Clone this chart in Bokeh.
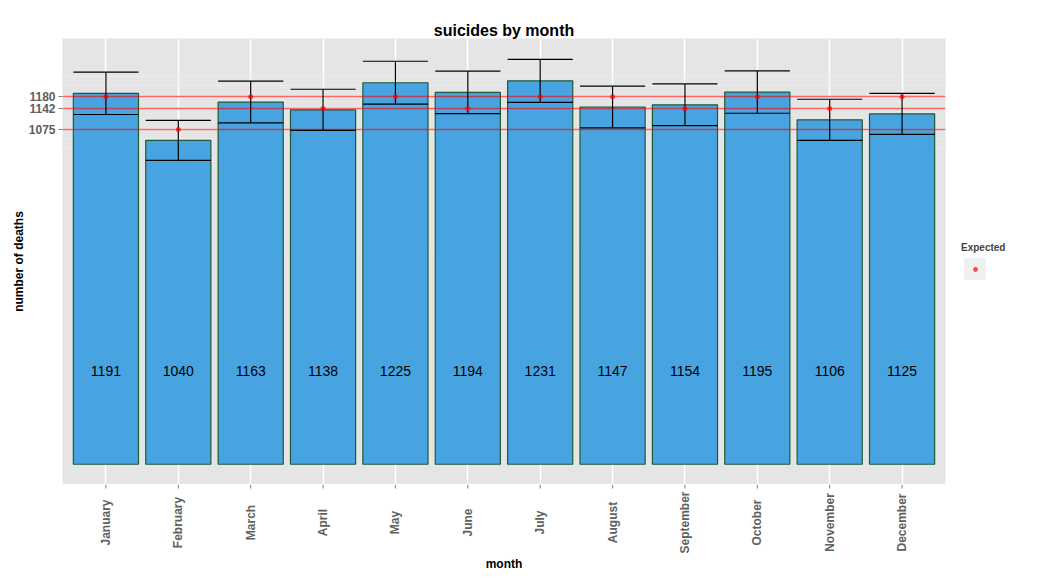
from bokeh.plotting import figure
from bokeh.layouts import column, row
from bokeh.models import (FactorRange, Range1d, FixedTicker, ColumnDataSource,
                          Legend, LegendItem)
from bokeh.transform import dodge
from bokeh.core.properties import value
from bokeh.embed import file_html
from bokeh.resources import INLINE
from math import pi

months = ["January", "February", "March", "April", "May", "June", "July",
          "August", "September", "October", "November", "December"]
deaths = [1191, 1040, 1163, 1138, 1225, 1194, 1231, 1147, 1154, 1195, 1106, 1125]
err_lower = [1123, 976, 1096, 1072, 1156, 1126, 1162, 1080, 1087, 1127, 1040, 1059]
err_upper = [1259, 1104, 1230, 1204, 1294, 1262, 1300, 1214, 1221, 1263, 1172, 1191]
expected = [1180, 1075, 1180, 1142, 1180, 1142, 1180, 1180, 1142, 1180, 1142, 1180]
ref_lines = [1075, 1142, 1180]
minor_lines = [1015, 1047, 1215, 1246]

FONT = "Liberation Sans"
GREY_TXT = "#606060"
TICK_COL = "#7F7F7F"

src = ColumnDataSource(dict(month=months, deaths=deaths, lower=err_lower,
                            upper=err_upper, expected=expected,
                            label=[str(d) for d in deaths],
                            label_y=[300] * len(months)))

# ---------------- main panel ----------------
p = figure(width=960, height=484,
           x_range=FactorRange(factors=months, range_padding=0.1,
                               range_padding_units="absolute"),
           y_range=Range1d(-65, 1367),
           output_backend="svg", toolbar_location=None,
           min_border_left=62, min_border_right=15,
           min_border_top=38, min_border_bottom=0)

p.background_fill_color = "#E5E5E5"
p.border_fill_color = "white"
p.outline_line_color = None

p.title.text = "suicides by month"
p.title.align = "center"
p.title.text_font = FONT
p.title.text_font_size = "16px"
p.title.text_font_style = "bold"
p.title.text_color = "black"
p.title.standoff = 0

p.xgrid.grid_line_color = "white"
p.xgrid.grid_line_width = 1.5
p.ygrid.grid_line_color = "white"
p.ygrid.grid_line_width = 1.5
p.ygrid.minor_grid_line_color = "#EEEEEE"
p.ygrid.minor_grid_line_width = 0.8

# x axis (ticks + centred rotated labels) is drawn in the strip below
p.xaxis.visible = False

yax = p.yaxis[0]
yax.ticker = FixedTicker(ticks=ref_lines, minor_ticks=minor_lines)
yax.minor_tick_line_color = None
yax.axis_line_color = None
yax.major_tick_line_color = TICK_COL
yax.major_tick_out = 4
yax.major_tick_in = 0
yax.major_label_text_font = FONT
yax.major_label_text_font_style = "bold"
yax.major_label_text_font_size = "12px"
yax.major_label_text_color = GREY_TXT
yax.major_label_standoff = 3
yax.axis_label = "number of deaths"
yax.axis_label_standoff = 0
yax.axis_label_text_font = FONT
yax.axis_label_text_font_style = "bold"
yax.axis_label_text_font_size = "12px"
yax.axis_label_text_color = "black"

p.vbar(x="month", top="deaths", bottom=0, width=0.9, source=src,
       fill_color="#48A4E1", line_color="#1F5A36", line_width=1.2)

p.hspan(y=ref_lines, line_color="red", line_alpha=0.6, line_width=1.7)

p.segment(x0="month", y0="lower", x1="month", y1="upper", source=src,
          line_color="black", line_width=1.2)
p.segment(x0=dodge("month", -0.45, range=p.x_range), y0="upper",
          x1=dodge("month", 0.45, range=p.x_range), y1="upper", source=src,
          line_color="black", line_width=1.2)
p.segment(x0=dodge("month", -0.45, range=p.x_range), y0="lower",
          x1=dodge("month", 0.45, range=p.x_range), y1="lower", source=src,
          line_color="black", line_width=1.2)

p.scatter(x="month", y="expected", source=src, size=5,
          fill_color="red", line_color=None, fill_alpha=0.7)

p.text(x="month", y="label_y", text="label", source=src,
       text_align="center", text_baseline="middle",
       text_font=value(FONT), text_font_size="14px", text_color="black")

# ---------------- legend strip (right) ----------------
lg = figure(width=81, height=484, x_range=Range1d(0, 81),
            y_range=Range1d(484, 0), output_backend="svg",
            toolbar_location=None, x_axis_location=None,
            y_axis_location=None, min_border=0)
lg.outline_line_color = None
lg.grid.visible = False
lg.background_fill_color = "white"
lg.border_fill_color = "white"
# renderers whose only point lies off-canvas: they exist just to feed the key
key_bg = lg.rect(x=[-500], y=[-500], width=1, height=1, fill_color="#F0F0F0",
                 line_color=None)
key_dot = lg.scatter(x=[-500], y=[-500], size=5, fill_color="red",
                     line_color=None, fill_alpha=0.7)
legend = Legend(items=[LegendItem(label=" ", renderers=[key_bg])],
                location=(1, 202), title="Expected",
                title_text_font=FONT, title_text_font_style="bold",
                title_text_font_size="10px", title_standoff=2,
                glyph_width=27, glyph_height=27, padding=0, margin=0,
                spacing=0, label_text_font_size="10px", label_width=5,
                border_line_color=None, background_fill_alpha=0)
lg.add_layout(legend, "center")
# the red point of the key, drawn at ggplot's small point size
legend_dot = Legend(items=[LegendItem(label=" ", renderers=[key_dot])],
                    location=(9, 209), glyph_width=12, glyph_height=12,
                    padding=0, margin=0, spacing=0,
                    label_text_font_size="10px", label_width=5,
                    border_line_color=None, background_fill_alpha=0)
lg.add_layout(legend_dot, "center")

# ---------------- x axis strip (bottom) ----------------
xl = figure(width=960, height=98, x_range=p.x_range,
            y_range=Range1d(98, 0), output_backend="svg",
            toolbar_location=None, x_axis_location=None,
            y_axis_location=None, min_border_left=62, min_border_right=15,
            min_border_top=0, min_border_bottom=0)
xl.outline_line_color = None
xl.grid.visible = False
xl.background_fill_color = "white"
xl.border_fill_color = "white"
xl.segment(x0=months, y0=[0] * len(months), x1=months, y1=[4] * len(months),
           line_color=TICK_COL, line_width=1)
xl.text(x=months, y=[38] * len(months), text=months, angle=pi / 2,
        text_align="center", text_baseline="middle",
        text_font=value(FONT), text_font_style="bold",
        text_font_size="12px", text_color=GREY_TXT)
xl.text(x=[6.0], y=[79], text=["month"], text_align="center",
        text_baseline="middle", text_font=value(FONT),
        text_font_style="bold", text_font_size="12px", text_color="black")

layout = column(row(p, lg), xl)
open("out.html", "w").write(file_html(layout, INLINE))
